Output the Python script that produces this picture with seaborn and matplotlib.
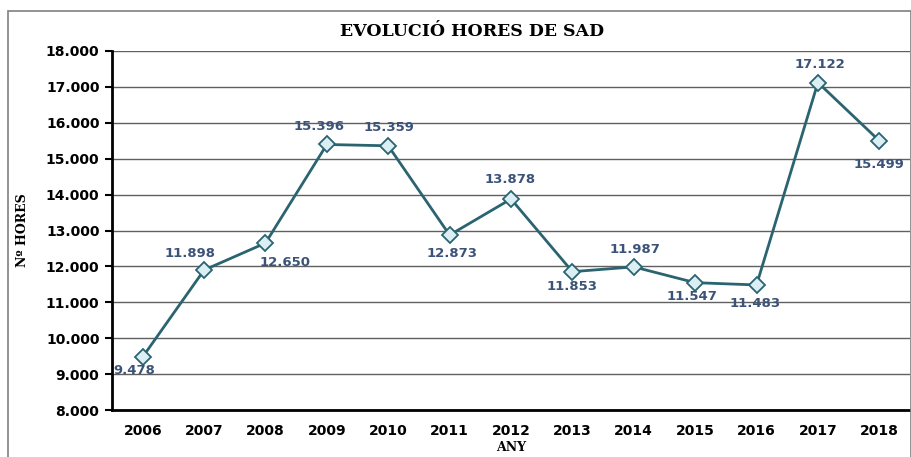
import numpy as np
import pandas as pd
import matplotlib.pyplot as plt
import seaborn as sns
from matplotlib.patches import Rectangle

# data
years = ["2006", "2007", "2008", "2009", "2010", "2011", "2012",
         "2013", "2014", "2015", "2016", "2017", "2018"]
hours = [9478, 11898, 12650, 15396, 15359, 12873, 13878,
         11853, 11987, 11547, 11483, 17122, 15499]
labels = ["9.478", "11.898", "12.650", "15.396", "15.359", "12.873", "13.878",
          "11.853", "11.987", "11.547", "11.483", "17.122", "15.499"]
# label offsets in pixels (dx, dy)
offsets = [(-8, -14), (-14, 17), (20, -19), (-8, 18), (1, 18), (2, -18), (-1, 19),
           (0, -15), (1, 17), (-3, -14), (-1, -19), (2, 18), (0, -24)]

df = pd.DataFrame({"any": years, "hores": hours})

sns.set_style("white")
plt.rcParams["text.color"] = "black"
plt.rcParams["axes.labelcolor"] = "black"
plt.rcParams["xtick.color"] = "black"
plt.rcParams["ytick.color"] = "black"

fig = plt.figure(figsize=(9.12, 4.57), dpi=100)
ax = fig.add_axes([112 / 912, 1 - 410 / 457, 798 / 912, 359 / 457])

# outer chart frame
fig.patches.append(Rectangle((8 / 912, -0.1), 903 / 912, 1.1 - 11 / 457,
                             transform=fig.transFigure, fill=False,
                             edgecolor="#808080", lw=1.2, zorder=0))

x = np.arange(len(years))
sns.lineplot(x=x, y=df["hores"], ax=ax, color="#2A6470", lw=2,
             marker="D", markersize=8, markerfacecolor="#DAEEF3",
             markeredgecolor="#2A6470", markeredgewidth=1.3, zorder=5)

for xi, yi, lab, (dx, dy) in zip(x, hours, labels, offsets):
    ax.annotate(lab, (xi, yi), xytext=(dx, dy), textcoords="offset pixels",
                ha="center", va="center", fontsize=9.5, fontweight="bold",
                color="#3B5378", zorder=6)

ax.set_xlim(-0.5, len(years) - 0.5)
ax.set_ylim(8000, 18000)
ax.set_yticks(np.arange(8000, 18001, 1000))
ax.set_yticklabels([f"{v // 1000}.000" for v in range(8000, 18001, 1000)],
                   fontsize=10, fontweight="bold")
ax.set_xticks(x)
ax.set_xticklabels(years, fontsize=10, fontweight="bold")
ax.set_xticks(np.arange(-0.5, len(years)), minor=True)
ax.tick_params(axis="x", which="major", length=0, pad=10)
ax.tick_params(axis="x", which="minor", length=5, width=1.5, direction="out")
ax.tick_params(axis="y", length=5, width=1.5, direction="out", pad=4, left=True)

ax.grid(axis="y", color="#606060", lw=1)
ax.set_axisbelow(True)
for s in ["top", "right"]:
    ax.spines[s].set_visible(False)
for s in ["left", "bottom"]:
    ax.spines[s].set_color("black")
    ax.spines[s].set_linewidth(2)

fig.text(472 / 912, 1 - 31 / 457, "EVOLUCIÓ HORES DE SAD", family="DejaVu Serif",
         fontweight="bold", fontsize=12.5, ha="center", va="center")
ax.set_xlabel("ANY", family="DejaVu Serif", fontweight="bold", fontsize=9, labelpad=2)
ax.set_ylabel("Nº HORES", family="DejaVu Serif", fontweight="bold", fontsize=9, labelpad=12)

fig.savefig("out.png", dpi=100)
